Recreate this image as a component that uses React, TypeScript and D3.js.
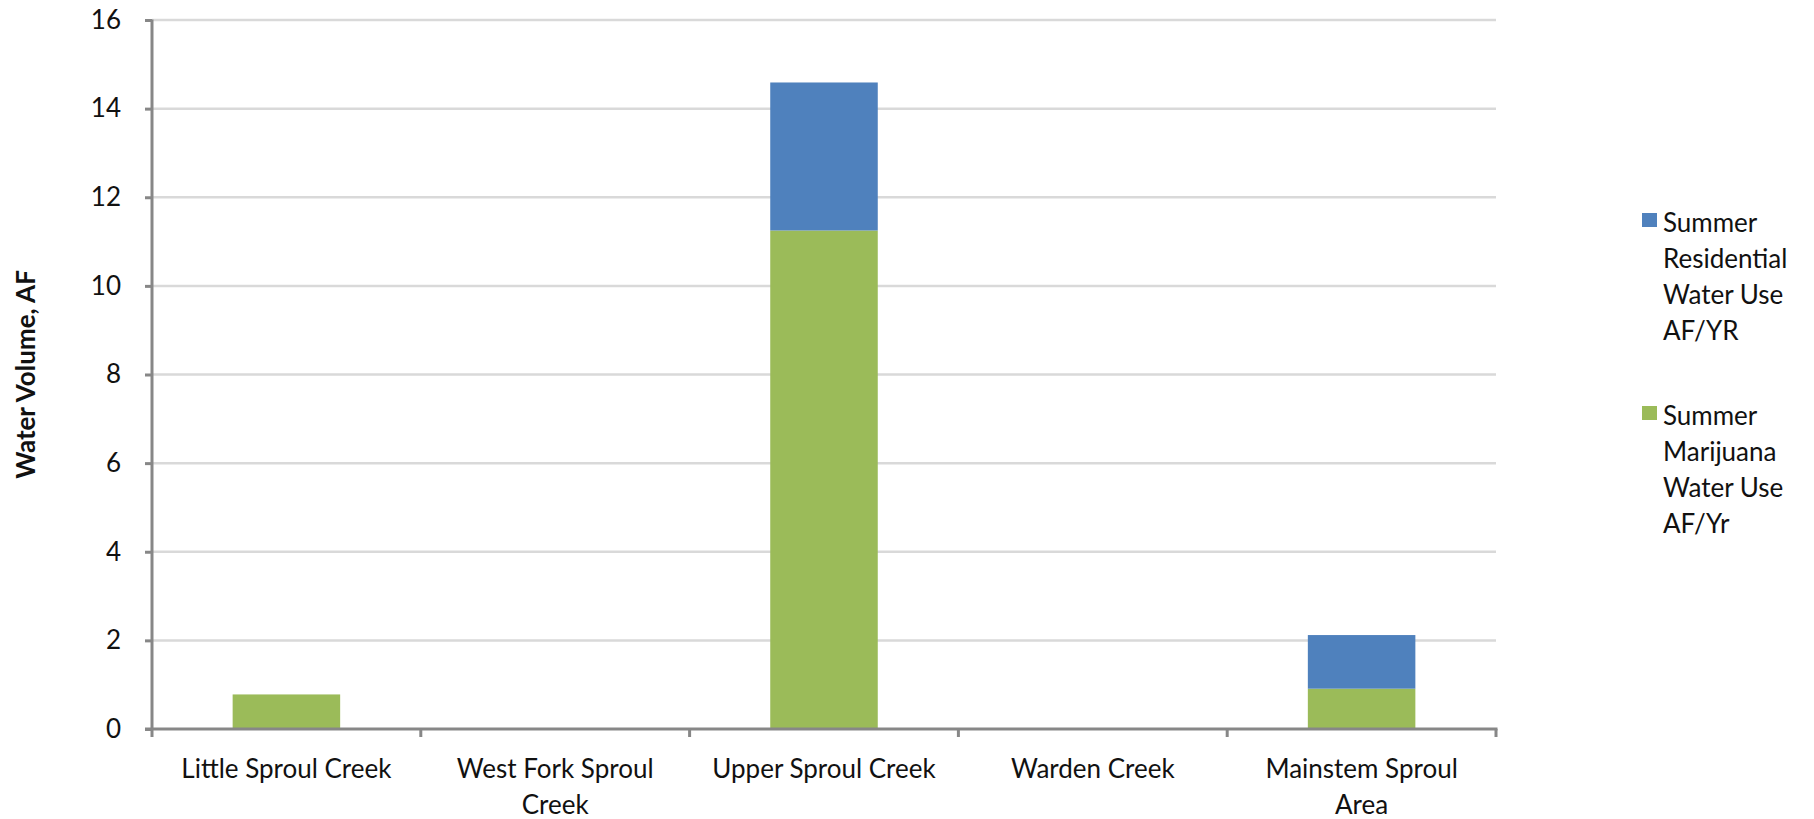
import * as d3 from "d3";
import { useEffect, useRef } from "react";

const categories = [
  "Little Sproul Creek",
  "West Fork Sproul Creek",
  "Upper Sproul Creek",
  "Warden Creek",
  "Mainstem Sproul Area",
];
const marijuanaUse = [0.78, 0, 11.25, 0, 0.91];
const residentialUse = [0, 0, 3.34, 0, 1.21];
const yTicks = [0, 2, 4, 6, 8, 10, 12, 14, 16];
const seriesNames = ["Summer Marijuana Water Use AF/Yr", "Summer Residential Water Use AF/YR"];
const legendLines = [
  ["Summer", "Residential", "Water Use", "AF/YR"],
  ["Summer", "Marijuana", "Water Use", "AF/Yr"],
];

const width = 1814;
const height = 819;
const margin = { top: 20, right: 318, bottom: 90, left: 152 };
const colors = ["#9BBB59", "#4F81BD"];
const font = "Lato, 'Open Sans', sans-serif";

export default function App() {
  const svgRef = useRef<SVGSVGElement | null>(null);

  useEffect(() => {
    if (!svgRef.current) return;
    const svg = d3.select(svgRef.current);
    svg.selectAll("*").remove();

    const innerW = width - margin.left - margin.right;
    const innerH = height - margin.top - margin.bottom;

    const x = d3.scaleBand<string>().domain(categories).range([0, innerW]).paddingInner(0.6).paddingOuter(0.3);
    const y = d3.scaleLinear().domain([0, 16]).range([innerH, 0]);

    const g = svg.append("g").attr("transform", `translate(${margin.left},${margin.top})`);

    // gridlines
    g.append("g")
      .selectAll("line")
      .data(yTicks.filter((t) => t > 0))
      .join("line")
      .attr("x1", 0)
      .attr("x2", innerW)
      .attr("y1", (t) => y(t))
      .attr("y2", (t) => y(t))
      .attr("stroke", "#d9d9d9")
      .attr("stroke-width", 2.5);

    // stacked bars
    const rows = categories.map((c, i) => ({ cat: c, m: marijuanaUse[i], r: residentialUse[i] }));
    const stack = d3.stack<(typeof rows)[number]>().keys(["m", "r"]);
    const layers = stack(rows as any);

    g.append("g")
      .selectAll("g")
      .data(layers)
      .join("g")
      .attr("fill", (_d, i) => colors[i])
      .selectAll("rect")
      .data((d) => d)
      .join("rect")
      .attr("x", (d) => x(d.data.cat) ?? 0)
      .attr("width", x.bandwidth())
      .attr("y", (d) => y(d[1]))
      .attr("height", (d) => y(d[0]) - y(d[1]));

    const axisColor = "#878787";

    // y axis
    const yAxis = g.append("g").call(
      d3.axisLeft(y).tickValues(yTicks).tickSize(7).tickPadding(24).tickFormat(d3.format("d"))
    );
    yAxis.select(".domain").attr("stroke", axisColor).attr("stroke-width", 3).attr("d", `M0,-0.5V${innerH}`);
    yAxis.selectAll(".tick line").attr("stroke", axisColor).attr("stroke-width", 3);
    yAxis
      .selectAll(".tick text")
      .attr("font-family", font)
      .attr("font-size", 26)
      .attr("fill", "#111");

    // x axis
    const xAxis = g.append("g").attr("transform", `translate(0,${innerH})`);
    xAxis
      .append("line")
      .attr("x1", -7)
      .attr("x2", innerW + 1.5)
      .attr("stroke", axisColor)
      .attr("stroke-width", 3);
    const step = x.step();
    xAxis
      .selectAll("line.tick")
      .data(d3.range(categories.length + 1))
      .join("line")
      .attr("class", "tick")
      .attr("x1", (i) => i * step)
      .attr("x2", (i) => i * step)
      .attr("y1", 0)
      .attr("y2", 8)
      .attr("stroke", axisColor)
      .attr("stroke-width", 3);

    const labels = xAxis
      .selectAll("text")
      .data(categories)
      .join("text")
      .attr("x", (c) => (x(c) ?? 0) + x.bandwidth() / 2)
      .attr("y", 49)
      .attr("text-anchor", "middle")
      .attr("font-family", font)
      .attr("font-size", 26)
      .attr("fill", "#111");

    labels.each(function (c) {
      const text = d3.select(this);
      const words = c.split(" ");
      const maxW = step * 0.92;
      let line: string[] = [];
      const cx = text.attr("x");
      let tspan = text.append("tspan").attr("x", cx).attr("dy", 0);
      for (const w of words) {
        line.push(w);
        tspan.text(line.join(" "));
        if ((tspan.node() as SVGTSpanElement).getComputedTextLength() > maxW && line.length > 1) {
          line.pop();
          tspan.text(line.join(" "));
          line = [w];
          tspan = text.append("tspan").attr("x", cx).attr("dy", 36).text(w);
        }
      }
    });

    // y title
    svg
      .append("text")
      .attr("transform", `translate(35,${margin.top + innerH / 2}) rotate(-90)`)
      .attr("text-anchor", "middle")
      .attr("font-family", font)
      .attr("font-weight", "bold")
      .attr("font-size", 26)
      .attr("fill", "#111")
      .text("Water Volume, AF");

    // legend (residential first, then marijuana)
    const legend = svg.append("g").attr("transform", "translate(1642,0)");
    const legendTops = [213, 406];
    const legendColors = [colors[1], colors[0]];
    legendLines.forEach((lines, i) => {
      const item = legend.append("g").attr("aria-label", seriesNames[1 - i]);
      item
        .append("rect")
        .attr("x", 0)
        .attr("y", legendTops[i])
        .attr("width", 15)
        .attr("height", 14)
        .attr("fill", legendColors[i]);
      item
        .selectAll("text")
        .data(lines)
        .join("text")
        .attr("x", 21)
        .attr("y", (_l, j) => legendTops[i] + 19 + j * 36)
        .attr("font-family", font)
        .attr("font-size", 26)
        .attr("fill", "#111")
        .text((l) => l);
    });
  }, []);

  return (
    <svg
      ref={svgRef}
      width={width}
      height={height}
      viewBox={`0 0 ${width} ${height}`}
      style={{ position: "absolute", left: 0, top: 0, background: "#fff" }}
    />
  );
}
